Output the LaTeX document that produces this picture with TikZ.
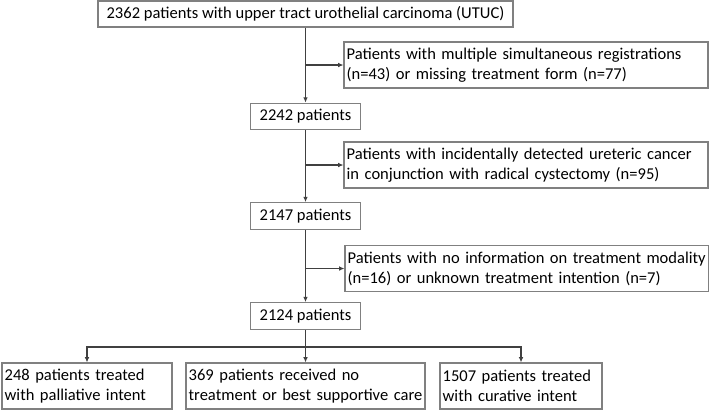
\documentclass[tikz,border=0pt]{standalone}
\usepackage{fontspec}
\setmainfont{Carlito}
\usepackage{tikz}
\usetikzlibrary{arrows.meta}

\begin{document}
\begin{tikzpicture}[x=0.75pt, y=-0.75pt,
    box/.style={draw=black!50, line width=0.8pt, inner xsep=2pt, inner ysep=0pt, align=left, font=\fontsize{12.4}{15}\selectfont},
    stage/.style={box, minimum width=82pt, minimum height=20pt},
    excl/.style={box, text width=269pt, minimum height=34.5pt},
    group/.style={box, minimum height=34.5pt},
    arr/.style={-{Latex[length=4pt,width=3.5pt]}, draw=black!75, line width=0.8pt}]
                        \useasboundingbox (0,0) rectangle (709,411);

                        \node (total) at (305.5,14) [box, minimum width=311.25pt, minimum height=19.5pt] {2362 patients with upper tract urothelial carcinoma (UTUC)};
                        \node (ex1) at (526,65) [excl] {\mbox{Patients with multiple simultaneous registrations}\\(n=43) or missing treatment form (n=77)};
                        \node (p2242) at (305.5,116.5) [stage] {2242 patients};
                        \node (ex2) at (526,165) [excl] {\mbox{Patients with incidentally detected ureteric cancer}\\in conjunction with radical cystectomy (n=95)};
                        \node (p2147) at (305.5,216) [stage] {2147 patients};
                        \node (ex3) at (527,268.5) [excl] {\mbox{Patients with no information on treatment modality}\\(n=16) or unknown treatment intention (n=7)};
                        \node (p2124) at (305.5,316) [stage] {2124 patients};

                        \node (pall) at (87,386) [group, text width=123.5pt] {248 patients treated\\with palliative intent};
                        \node (none) at (305.5,386) [group, text width=175.25pt] {369 patients received no\\\mbox{treatment or best supportive care}};
                        \node (cur) at (521,386) [group, text width=117.5pt] {1507 patients treated\\with curative intent};

                        \coordinate (split) at (305.5,347);

                        \draw[arr] (total) -- (p2242);
                        \draw[arr] (total.south |- ex1.west) -- (ex1.west);

                        \draw[arr] (p2242) -- (p2147);
                        \draw[arr] (p2242.south |- ex2.west) -- (ex2.west);

                        \draw[arr] (p2147) -- (p2124);
                        \draw[arr] (p2147.south |- ex3.west) -- (ex3.west);

                        \draw[arr] (p2124) -- (none);
                        \draw[arr] (split) -| (pall.north);
                        \draw[arr] (split) -| (cur.north);
                    \end{tikzpicture}
\end{document}
